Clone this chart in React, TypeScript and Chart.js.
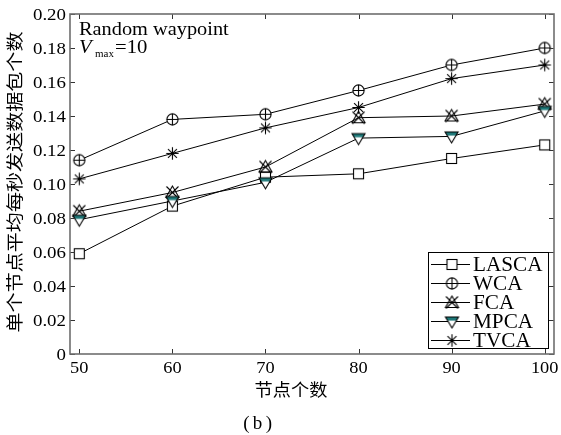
import React, { useEffect, useRef } from 'react';
import { Chart, registerables } from 'chart.js';

Chart.register(...registerables);

const categories = [50, 60, 70, 80, 90, 100];
const lascaValues = [0.059, 0.087, 0.104, 0.106, 0.115, 0.123];
const wcaValues = [0.114, 0.138, 0.141, 0.155, 0.170, 0.180];
const fcaValues = [0.084, 0.095, 0.110, 0.139, 0.140, 0.147];
const mpcaValues = [0.079, 0.090, 0.101, 0.127, 0.128, 0.143];
const tvcaValues = [0.103, 0.118, 0.133, 0.145, 0.162, 0.170];
const seriesNames = ['LASCA', 'WCA', 'FCA', 'MPCA', 'TVCA'];
const markerKinds = ['square', 'circleplus', 'triX', 'triDown', 'asterisk'];
const yTickValues = [0, 0.02, 0.04, 0.06, 0.08, 0.1, 0.12, 0.14, 0.16, 0.18, 0.2];
const xTickValues = [50, 60, 70, 80, 90, 100];
const yAxisTitle = '单个节点平均每秒发送数据包个数';
const xAxisTitle = '节点个数';
const annotationLine1 = 'Random waypoint';

const SERIF = '"Liberation Serif", "DejaVu Serif", serif';
const CJK = '"Noto Sans CJK SC", sans-serif';
const TEAL = '#1d7878';

function makeMarker(kind: string): HTMLCanvasElement {
  const c = document.createElement('canvas');
  c.width = 17;
  c.height = 17;
  const ctx = c.getContext('2d')!;
  const m = 8.5;
  ctx.lineWidth = 1.1;
  ctx.strokeStyle = '#000';
  ctx.fillStyle = '#fff';
  if (kind === 'square') {
    ctx.fillRect(m - 5, m - 5, 10, 10);
    ctx.strokeRect(m - 5, m - 5, 10, 10);
  } else if (kind === 'circleplus') {
    ctx.beginPath();
    ctx.arc(m, m, 5.6, 0, Math.PI * 2);
    ctx.fill();
    ctx.stroke();
    ctx.beginPath();
    ctx.moveTo(m - 5.6, m);
    ctx.lineTo(m + 5.6, m);
    ctx.moveTo(m, m - 5.6);
    ctx.lineTo(m, m + 5.6);
    ctx.stroke();
  } else if (kind === 'triX') {
    ctx.beginPath();
    ctx.moveTo(m, m - 6.5);
    ctx.lineTo(m - 6.5, m + 5);
    ctx.lineTo(m + 6.5, m + 5);
    ctx.closePath();
    ctx.stroke();
    ctx.beginPath();
    ctx.moveTo(m - 6, m - 6);
    ctx.lineTo(m + 6, m + 6);
    ctx.moveTo(m + 6, m - 6);
    ctx.lineTo(m - 6, m + 6);
    ctx.stroke();
  } else if (kind === 'triDown') {
    ctx.beginPath();
    ctx.moveTo(m - 6.5, m - 4.5);
    ctx.lineTo(m + 6.5, m - 4.5);
    ctx.lineTo(m, m + 6.5);
    ctx.closePath();
    ctx.fill();
    ctx.save();
    ctx.clip();
    ctx.fillStyle = TEAL;
    ctx.fillRect(0, m - 4.5, 17, 3.6);
    ctx.restore();
    ctx.stroke();
  } else if (kind === 'asterisk') {
    const r = 6.2;
    const d = r * 0.72;
    ctx.beginPath();
    ctx.moveTo(m - r, m);
    ctx.lineTo(m + r, m);
    ctx.moveTo(m, m - r);
    ctx.lineTo(m, m + r);
    ctx.moveTo(m - d, m - d);
    ctx.lineTo(m + d, m + d);
    ctx.moveTo(m + d, m - d);
    ctx.lineTo(m - d, m + d);
    ctx.stroke();
  }
  return c;
}

function drawText(
  ctx: CanvasRenderingContext2D,
  text: string,
  x: number,
  y: number,
  font: string,
  align: CanvasTextAlign,
  baseline: CanvasTextBaseline,
  sx = 1,
  rot = 0
) {
  ctx.save();
  ctx.translate(x, y);
  if (rot) ctx.rotate(rot);
  ctx.scale(sx, 1);
  ctx.font = font;
  ctx.textAlign = align;
  ctx.textBaseline = baseline;
  ctx.fillStyle = '#000';
  ctx.fillText(text, 0, 0);
  ctx.restore();
}

export default function App() {
  const ref = useRef<HTMLCanvasElement | null>(null);

  useEffect(() => {
    if (!ref.current) return;
    const allValues = [lascaValues, wcaValues, fcaValues, mpcaValues, tvcaValues];
    const markers = markerKinds.map(makeMarker);

    const decorPlugin = {
      id: 'decor',
      afterDatasetsDraw(chart: any) {
        const ctx: CanvasRenderingContext2D = chart.ctx;
        const xs = chart.scales.x;
        const ys = chart.scales.y;
        const { left, right, top, bottom } = chart.chartArea;

        ctx.save();
        ctx.strokeStyle = '#333';
        ctx.lineWidth = 1;
        ctx.beginPath();
        xTickValues.forEach((v) => {
          const px = Math.round(xs.getPixelForValue(v)) + 0.5;
          ctx.moveTo(px, bottom);
          ctx.lineTo(px, bottom - 5);
          ctx.moveTo(px, top);
          ctx.lineTo(px, top + 5);
        });
        yTickValues.forEach((v) => {
          const py = Math.round(ys.getPixelForValue(v)) + 0.5;
          ctx.moveTo(left, py);
          ctx.lineTo(left + 5, py);
          ctx.moveTo(right, py);
          ctx.lineTo(right - 5, py);
        });
        ctx.stroke();

        ctx.strokeStyle = '#6e6e6e';
        ctx.lineWidth = 1.6;
        ctx.strokeRect(left, top, right - left, bottom - top);
        ctx.restore();

        xTickValues.forEach((v) => {
          drawText(ctx, String(v), xs.getPixelForValue(v), 373, `17.5px ${SERIF}`, 'center', 'alphabetic', 1.05);
        });
        yTickValues.forEach((v) => {
          const label = v === 0 ? '0' : v.toFixed(2);
          drawText(ctx, label, 66, ys.getPixelForValue(v) + 6, `17.5px ${SERIF}`, 'right', 'alphabetic', 1.08);
        });

        drawText(ctx, annotationLine1, 79, 35, `18px ${SERIF}`, 'left', 'alphabetic', 1.13);
        drawText(ctx, 'V', 79, 53, `italic 18px ${SERIF}`, 'left', 'alphabetic', 1.15);
        drawText(ctx, 'max', 95, 57, `10px ${SERIF}`, 'left', 'alphabetic', 1.1);
        drawText(ctx, '=10', 115, 53, `18px ${SERIF}`, 'left', 'alphabetic', 1.15);

        drawText(ctx, xAxisTitle, 291, 390, `17px ${CJK}`, 'center', 'middle', 1.07);
        drawText(ctx, yAxisTitle, 15, 182, `17px ${CJK}`, 'center', 'middle', 1.18, -Math.PI / 2);
        drawText(ctx, '(', 246.5, 429, `19px ${SERIF}`, 'center', 'alphabetic', 1);
        drawText(ctx, 'b', 257.5, 429, `19px ${SERIF}`, 'center', 'alphabetic', 1);
        drawText(ctx, ')', 269, 429, `19px ${SERIF}`, 'center', 'alphabetic', 1);

        const bx = 428, by = 252, bw = 120, bh = 96;
        ctx.save();
        ctx.fillStyle = '#fff';
        ctx.fillRect(bx, by, bw, bh);
        ctx.strokeStyle = '#000';
        ctx.lineWidth = 1;
        ctx.strokeRect(bx + 0.5, by + 0.5, bw, bh);
        ctx.restore();
        chart.data.datasets.forEach((ds: any, i: number) => {
          const ly = 264 + i * 19;
          ctx.save();
          ctx.strokeStyle = '#000';
          ctx.lineWidth = 1;
          ctx.beginPath();
          ctx.moveTo(431, ly + 0.5);
          ctx.lineTo(470, ly + 0.5);
          ctx.stroke();
          ctx.drawImage(markers[i], 452 - 8.5, ly - 8);
          ctx.restore();
          drawText(ctx, ds.label, 473, ly + 7, `20px ${SERIF}`, 'left', 'alphabetic', 1.06);
        });
      },
    };

    const chart = new Chart(ref.current, {
      type: 'line',
      data: {
        datasets: seriesNames.map((name, i) => ({
          label: name,
          data: categories.map((x, j) => ({ x, y: allValues[i][j] })),
          borderColor: '#000',
          borderWidth: 1,
          backgroundColor: '#fff',
          pointStyle: markers[i] as any,
          pointRadius: 6,
          tension: 0,
          fill: false,
          clip: false as any,
          order: seriesNames.length - i,
        })),
      },
      options: {
        animation: false,
        responsive: false,
        devicePixelRatio: 1,
        layout: { padding: { left: 70, right: 7, top: 14, bottom: 81 } },
        scales: {
          x: { type: 'linear', min: 49, max: 101, display: false },
          y: { type: 'linear', min: 0, max: 0.2, display: false },
        },
        plugins: {
          legend: { display: false },
          tooltip: { enabled: false },
        },
      },
      plugins: [decorPlugin],
    });
    return () => chart.destroy();
  }, []);

  return (
    <div style={{ position: 'absolute', left: 0, top: 0, width: 561, height: 435, background: '#fff' }}>
      <canvas ref={ref} width={561} height={435} style={{ display: 'block' }} />
    </div>
  );
}
